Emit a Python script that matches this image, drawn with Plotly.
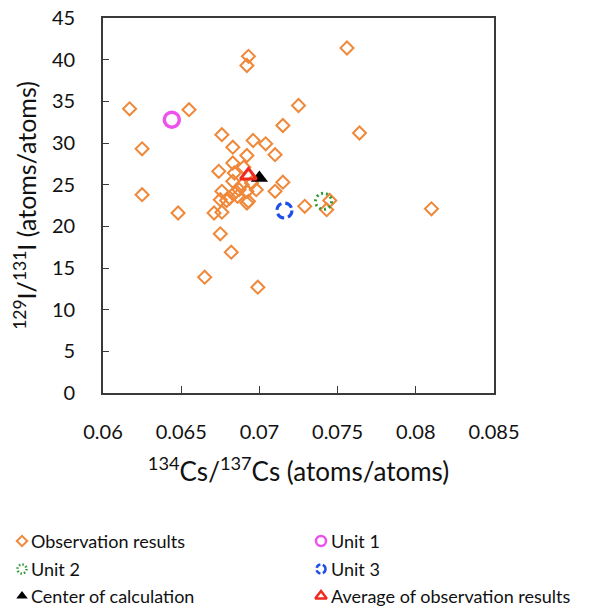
import plotly.graph_objects as go

# Figure size and plot-box edges (pixels from the top-left corner)
W, H = 591, 608
BOX_L, BOX_R, BOX_T, BOX_B = 103, 494, 18, 393

# Observed isotope ratios: 134Cs/137Cs vs 129I/131I
obs_x = [0.0617, 0.0625, 0.0625, 0.0655, 0.0648, 0.0693, 0.0692, 0.0676,
         0.0683, 0.0696, 0.0704, 0.0692, 0.0710, 0.0683, 0.0674, 0.0684,
         0.0683, 0.0715, 0.0725, 0.0756, 0.0764, 0.0715, 0.0710, 0.0729,
         0.0743, 0.0745, 0.0810, 0.0675, 0.0671, 0.0676, 0.0692, 0.0675,
         0.0682, 0.0665, 0.0699, 0.0676, 0.0681, 0.0686, 0.0687, 0.0692,
         0.0693, 0.0698, 0.0689, 0.0695, 0.0679, 0.0684, 0.0690]
obs_y = [34.1, 29.3, 23.8, 34.0, 21.6, 40.4, 39.3, 31.0,
         29.5, 30.3, 29.9, 28.5, 28.6, 27.6, 26.6, 26.4,
         25.4, 32.1, 34.5, 41.4, 31.2, 25.3, 24.2, 22.4,
         22.0, 23.1, 22.1, 23.2, 21.6, 21.7, 22.8, 19.1,
         16.9, 13.9, 12.7, 24.2, 23.4, 23.6, 24.4, 24.2,
         23.0, 24.4, 25.0, 25.2, 23.1, 24.0, 27.1]

# Calculated reactor units and summary points
unit1_x, unit1_y = [0.0644], [32.8]
unit2_x, unit2_y = [0.0741], [23.0]
unit3_x, unit3_y = [0.0716], [21.9]
calc_x, calc_y = [0.0700], [25.8]
avg_x, avg_y = [0.0693], [26.1]

x_ticks = [0.06, 0.065, 0.07, 0.075, 0.08, 0.085]
x_tick_text = ["0.06", "0.065", "0.07", "0.075", "0.08", "0.085"]
y_ticks = [0, 5, 10, 15, 20, 25, 30, 35, 40, 45]

legend_labels = ["Observation results", "Unit 1", "Unit 2", "Unit 3",
                 "Center of calculation", "Average of observation results"]

ORANGE = "#F0883A"
MAGENTA = "#EE52EE"
GREEN = "#2E9A35"
BLUE = "#1F4FE6"
RED = "#F02A1E"
FONT = "Lato"
TEXT = "#111111"

fig = go.Figure()

fig.add_trace(go.Scatter(
    x=obs_x, y=obs_y, mode="markers", name=legend_labels[0],
    marker=dict(symbol="diamond-open", size=10, color=ORANGE,
                line=dict(width=2, color=ORANGE)),
    xaxis="x", yaxis="y"))
fig.add_trace(go.Scatter(
    x=unit1_x, y=unit1_y, mode="markers", name=legend_labels[1],
    marker=dict(symbol="circle-open", size=15, color=MAGENTA,
                line=dict(width=3.5, color=MAGENTA)),
    xaxis="x", yaxis="y"))
# Units 2 and 3: invisible hover anchors, outlines drawn as dashed shapes
for ux, uy, nm in [(unit2_x, unit2_y, legend_labels[2]),
                   (unit3_x, unit3_y, legend_labels[3])]:
    fig.add_trace(go.Scatter(x=ux, y=uy, mode="markers", name=nm,
                             marker=dict(size=16, opacity=0),
                             xaxis="x", yaxis="y"))
fig.add_trace(go.Scatter(
    x=calc_x, y=calc_y, mode="markers", name=legend_labels[4],
    marker=dict(symbol="triangle-up", size=15, color="black"),
    xaxis="x", yaxis="y"))
fig.add_trace(go.Scatter(
    x=avg_x, y=avg_y, mode="markers", name=legend_labels[5],
    marker=dict(symbol="triangle-up-open", size=14, color=RED,
                line=dict(width=3, color=RED)),
    xaxis="x", yaxis="y"))


def ring(xref, yref, cx, cy, r, color, width, dash):
    return dict(type="circle", xref=xref, yref=yref,
                xsizemode="pixel", ysizemode="pixel",
                xanchor=cx, yanchor=cy, x0=-r, x1=r, y0=-r, y1=r,
                line=dict(color=color, width=width, dash=dash),
                fillcolor="rgba(0,0,0,0)", layer="above")


shapes = [
    ring("x", "y", unit2_x[0], unit2_y[0], 8, GREEN, 3, "2px,3px"),
    ring("x", "y", unit3_x[0], unit3_y[0], 7.5, BLUE, 3.2, "8px,4px"),
]

# Manual legend in a full-figure overlay (pixel coordinates, y down)
col_icon = [22, 321]
col_text = [29, 329]
row_y = [541, 569, 596]
slots = [(0, 0), (1, 0), (0, 1), (1, 1), (0, 2), (1, 2)]
icon_styles = [
    dict(symbol="diamond-open", size=8, color=ORANGE, line=dict(width=2, color=ORANGE)),
    dict(symbol="circle-open", size=10, color=MAGENTA, line=dict(width=2.5, color=MAGENTA)),
    None,
    None,
    dict(symbol="triangle-up", size=10, color="black"),
    dict(symbol="triangle-up-open", size=10, color=RED, line=dict(width=2.5, color=RED)),
]
annotations = []
for i, (label, (c, r)) in enumerate(zip(legend_labels, slots)):
    ix, iy = col_icon[c], row_y[r]
    if icon_styles[i] is not None:
        fig.add_trace(go.Scatter(x=[ix], y=[iy], mode="markers",
                                 marker=icon_styles[i], showlegend=False,
                                 hoverinfo="skip", xaxis="x2", yaxis="y2"))
    annotations.append(dict(x=col_text[c], y=iy, xref="x2", yref="y2",
                            text=label, showarrow=False, xanchor="left",
                            yanchor="middle",
                            font=dict(family=FONT, size=18, color=TEXT)))
shapes.append(ring("x2", "y2", col_icon[0], row_y[1], 4.5, GREEN, 2.5, "1.5px,2px"))
shapes.append(ring("x2", "y2", col_icon[1], row_y[1], 4.5, BLUE, 2.5, "5px,2.5px"))

axis_line = "#3a3a3a"
fig.update_layout(
    width=W, height=H,
    margin=dict(l=0, r=0, t=0, b=0, autoexpand=False),
    paper_bgcolor="white", plot_bgcolor="rgba(0,0,0,0)",
    showlegend=False,
    font=dict(family=FONT, color=TEXT),
    xaxis=dict(
        domain=[BOX_L / W, BOX_R / W], anchor="y", automargin=False,
        range=[0.06, 0.085], tickvals=x_ticks, ticktext=x_tick_text,
        ticks="inside", ticklen=7, tickwidth=1.3, tickcolor=axis_line,
        showline=True, linecolor=axis_line, linewidth=1.8, mirror=True,
        showgrid=False, zeroline=False, ticklabelstandoff=20,
        tickfont=dict(family=FONT, size=20, color=TEXT),
        title=dict(text="<sup>134</sup>Cs/<sup>137</sup>Cs (atoms/atoms)",
                   font=dict(family=FONT, size=26, color=TEXT),
                   standoff=21),
    ),
    yaxis=dict(
        domain=[1 - BOX_B / H, 1 - BOX_T / H], anchor="x", automargin=False,
        range=[0, 45], tickvals=y_ticks,
        ticks="inside", ticklen=6, tickwidth=1.3, tickcolor=axis_line,
        showline=True, linecolor=axis_line, linewidth=1.8, mirror=True,
        showgrid=False, zeroline=False, ticklabelstandoff=22,
        tickfont=dict(family=FONT, size=20, color=TEXT),
        title=dict(text="<sup>129</sup>I/<sup>131</sup>I (atoms/atoms)",
                   font=dict(family=FONT, size=25, color=TEXT),
                   standoff=8),
    ),
    xaxis2=dict(domain=[0, 1], range=[0, W], visible=False, anchor="y2",
                fixedrange=True, automargin=False),
    yaxis2=dict(domain=[0, 1], range=[H, 0], visible=False, anchor="x2",
                fixedrange=True, automargin=False),
    shapes=shapes,
    annotations=annotations,
)

fig.write_html("out.html")
